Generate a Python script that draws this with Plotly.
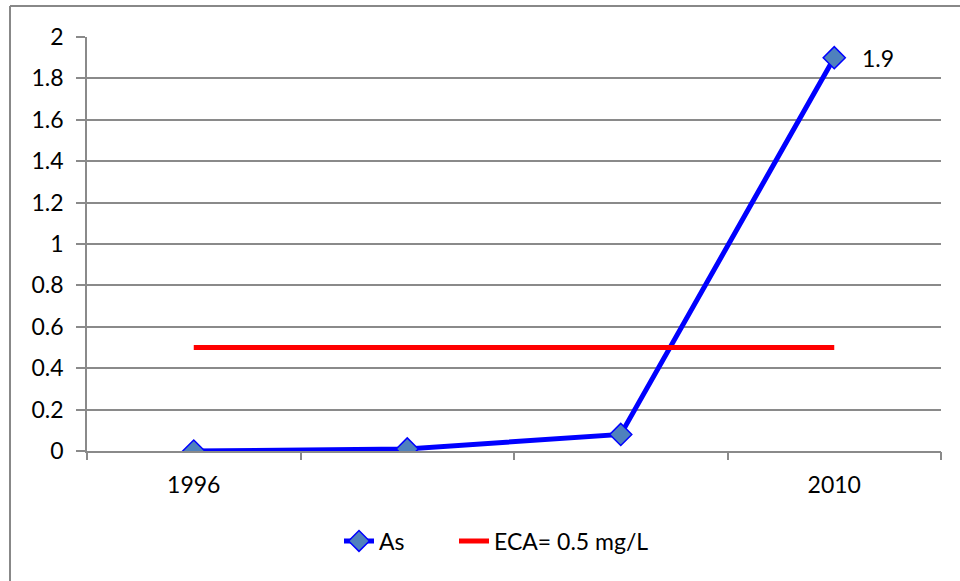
import plotly.graph_objects as go

# Arsenic concentration against the ECA limit
years = ["1996", "", "", "2010"]
as_values = [0.0, 0.01, 0.08, 1.9]
eca_values = [0.5, 0.5, 0.5, 0.5]
y_ticks = [0, 0.2, 0.4, 0.6, 0.8, 1, 1.2, 1.4, 1.6, 1.8, 2]

x_pos = list(range(len(years)))
boundaries = [i - 0.5 for i in range(len(years) + 1)]

FONT = "Lato"
GRID = "#8a8a8a"
FS = 23


def px_x(v):
    return (v - 87) / 854


def px_y(v):
    return (451 - v) / 414


fig = go.Figure()

fig.add_trace(go.Scatter(
    x=x_pos, y=as_values, name="As", mode="lines+markers",
    line=dict(color="#0000ff", width=5),
    marker=dict(symbol="diamond", size=17, color="#4f81bd",
                line=dict(color="#0000ff", width=1.5)),
    legend="legend",
))
fig.add_trace(go.Scatter(
    x=x_pos, y=eca_values, name="ECA= 0.5 mg/L", mode="lines",
    line=dict(color="#ff0000", width=5),
    legend="legend2",
))
# invisible trace that carries the boundary tick marks
fig.add_trace(go.Scatter(
    x=boundaries, y=[None] * len(boundaries), xaxis="x2",
    showlegend=False, hoverinfo="skip", mode="lines",
))

fig.add_annotation(
    x=x_pos[-1], y=as_values[-1], text=f"{as_values[-1]:g}",
    showarrow=False, xanchor="left", yanchor="middle", xshift=26,
    font=dict(family=FONT, size=FS, color="black"),
)

# outer chart border (right and bottom edges run past the page)
border = dict(color="#888888", width=2)
shapes = [
    dict(type="line", xref="paper", yref="paper", x0=px_x(10), x1=px_x(965),
         y0=px_y(6), y1=px_y(6), line=border, layer="above"),
    dict(type="line", xref="paper", yref="paper", x0=px_x(10), x1=px_x(10),
         y0=px_y(6), y1=px_y(590), line=border, layer="above"),
]

legend_common = dict(
    orientation="h", xanchor="left", y=px_y(541), yanchor="middle",
    font=dict(family=FONT, size=FS), bgcolor="rgba(0,0,0,0)",
)

fig.update_layout(
    width=960, height=581,
    margin=dict(l=87, r=19, t=37, b=130),
    paper_bgcolor="white", plot_bgcolor="white",
    font=dict(family=FONT, size=FS, color="black"),
    xaxis=dict(
        range=[-0.5, len(years) - 0.5], tickmode="array",
        tickvals=x_pos, ticktext=years, ticks="", showgrid=False,
        showline=True, linecolor=GRID, linewidth=1.5, zeroline=False,
        ticklabelstandoff=13,
    ),
    xaxis2=dict(
        overlaying="x", matches="x", side="bottom", anchor="y",
        tickmode="array", tickvals=boundaries, ticktext=[""] * len(boundaries),
        ticks="outside", ticklen=8, tickwidth=1.5, tickcolor=GRID,
        showgrid=False, showline=False, zeroline=False,
    ),
    yaxis=dict(
        range=[0, 2], tickmode="array", tickvals=y_ticks,
        ticktext=[f"{v:g}" for v in y_ticks],
        ticks="outside", ticklen=9, tickwidth=1.5, tickcolor=GRID,
        showgrid=True, gridcolor=GRID, gridwidth=1.5,
        showline=True, linecolor=GRID, linewidth=1.5, zeroline=False,
        ticklabelstandoff=8,
    ),
    legend=dict(x=px_x(339), **legend_common),
    legend2=dict(x=px_x(454), **legend_common),
    shapes=shapes,
)

fig.write_html("out.html")
